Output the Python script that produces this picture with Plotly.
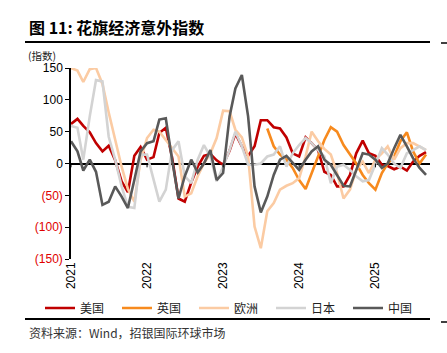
import plotly.graph_objects as go

months = [f"{2021 + i // 12}-{i % 12 + 1:02d}-01" for i in range(57)]

us = [62, 70, 59, 49, 32, 19, 28, 5, -28, -45, 12, 26, 6, 10, 48, 56, 10, -55, -60, -30, -5, 12, 15, 5,
      -2, 20, 47, 27, 12, 27, 68, 68, 57, 55, 41, 16, 11, 41, 32, 21, -13, -18, -36, -36, -18, 16, 36, 16,
      12, -2, -4, -9, -5, -11, 3, 12, 18]
uk = [None] * 31 + [55, 27, 14, 6, -7, -26, -40, -15, 11, 37, 57, 50, 29, 15, 0, -18, -31,
                    -41, -15, 0, 11, 35, 49, 19, 0, 14]
eu = [150, 146, 128, 148, 150, 125, 80, 35, -5, -40, -60, 6, 40, 53, 50, 37, 24, 11, -52, -47, -20, 0, 16, 40,
      83, 82, 53, 41, 11, -99, -133, -75, -62, -41, -35, -31, -23, 11, 50, 35, 23, 14, -15, -55, -41, -10, 3, -15,
      6, 16, 27, 6, 24, 32, 32, 27, 21]
jp = [59, 56, 6, 74, 131, 129, 42, 6, -36, -68, -70, 14, 14, -26, -60, -41, 21, 35, -20, -31, 6, 29, 11, -28,
      -5, 21, 50, 27, -2, -2, 0, 11, 14, 27, -5, 16, 29, 40, 32, 21, 11, -31, -5, -2, -10, -20, -28, -26,
      -2, 24, 14, 0, -7, 16, 21, 27, 21]
cn = [35, 19, -11, 6, -13, -65, -60, -36, -52, -70, -26, 19, 32, 35, 69, 71, 6, -55, -20, 6, -14, 0, 21, -26,
      -15, 74, 118, 139, 74, -36, -77, -52, -18, 6, 12, 2, -10, 6, 19, 27, 6, -2, -18, -35, -36, -10, 16, 14,
      6, -7, 0, 24, 45, 27, 8, -7, -18]

names = ["美国", "英国", "欧洲", "日本", "中国"]
series = [us, uk, eu, jp, cn]
colors = ["#C00000", "#F78A1E", "#FBCBA3", "#D3D3D3", "#595959"]

ytick_vals = [150, 100, 50, 0, -50, -100, -150]
ytick_text = ["150", "100", "50", "0",
              "<span style='color:#E00000'>(50)</span>",
              "<span style='color:#E00000'>(100)</span>",
              "<span style='color:#E00000'>(150)</span>"]
years = ["2021-01-01", "2022-01-01", "2023-01-01", "2024-01-01", "2025-01-01"]

fig = go.Figure()
for n, s, c in zip(names, series, colors):
    fig.add_trace(go.Scatter(x=months, y=s, name=n, mode="lines",
                             line=dict(color=c, width=2.6), connectgaps=False))

# ticks on zero line
for yv in years:
    fig.add_shape(type="line", xref="x", yref="y", x0=yv, x1=yv, y0=0, y1=-6,
                  line=dict(color="black", width=1))

W, H = 447, 353
L, R, T, B = 71, 17, 68, 94
pw, ph = W - L - R, H - T - B

def px(x):
    return (x - L) / pw

def py(y):
    return (H - B - y) / ph

for (x0, x1, y, w) in [(25, 430, 42, 2.2), (441, 447, 43, 1.5), (25, 430, 319, 2.2), (441, 447, 322, 1.5)]:
    fig.add_shape(type="line", xref="paper", yref="paper", x0=px(x0), x1=px(x1), y0=py(y), y1=py(y),
                  line=dict(color="black", width=w))

fig.add_annotation(text="<b>图 11: 花旗经济意外指数</b>", xref="paper", yref="paper", x=px(27), y=py(27),
                   xanchor="left", yanchor="middle", showarrow=False,
                   font=dict(family="Noto Sans CJK SC", size=16, color="black"))
fig.add_annotation(text="(指数)", xref="paper", yref="paper", x=px(26), y=py(55),
                   xanchor="left", yanchor="middle", showarrow=False,
                   font=dict(family="Noto Sans CJK SC", size=10.5, color="#222"))
fig.add_annotation(text="资料来源：Wind，招银国际环球市场", xref="paper", yref="paper", x=px(27), y=py(332),
                   xanchor="left", yanchor="middle", showarrow=False,
                   font=dict(family="Noto Sans CJK SC", size=12, color="#333"))

fig.update_layout(
    width=W, height=H, margin=dict(l=L, r=R, t=T, b=B),
    paper_bgcolor="white", plot_bgcolor="white",
    font=dict(family="Liberation Sans, Arial", size=12, color="black"),
    showlegend=True,
    legend=dict(orientation="h", x=px(40), y=py(308), xanchor="left", yanchor="middle",
                font=dict(family="Noto Sans CJK SC", size=12, color="#222"),
                entrywidth=32, itemwidth=30, bgcolor="rgba(0,0,0,0)"),
    xaxis=dict(type="date", range=["2021-01-01", "2025-09-20"], tickvals=years,
               ticktext=[y[:4] for y in years], tickangle=-90, showgrid=False, showline=False,
               zeroline=False, ticks="", tickfont=dict(size=12)),
    yaxis=dict(range=[-150, 150], tickvals=ytick_vals, ticktext=ytick_text, showgrid=False,
               showline=True, linecolor="black", linewidth=1.5, ticks="outside", ticklen=4,
               tickcolor="black", zeroline=True, zerolinecolor="black", zerolinewidth=1.5,
               tickfont=dict(size=12)),
)

fig.write_html("out.html")
